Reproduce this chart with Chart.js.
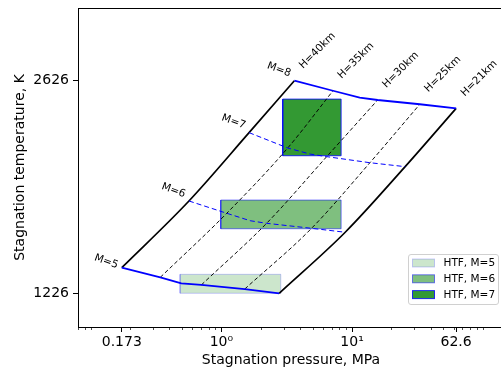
<!DOCTYPE html>
<html lang="en">
<head>
<meta charset="UTF-8">
<title>Stagnation conditions</title>
<style>
  html, body { margin: 0; padding: 0; background: #fff; overflow: hidden; }
  #wrap { width: 504px; height: 372px; }
</style>
</head>
<body>
<div id="wrap"><canvas id="envelope" width="504" height="372"></canvas></div>
<script src="https://cdn.jsdelivr.net/npm/chart.js"></script>
<script>
// Points along each Mach line, at these altitudes (km)
const altitudes = [40, 35, 32, 30, 25, 21];
const machNumbers = [5, 6, 7, 8];

// stagnation pressure, MPa
const pressureM5 = [0.173, 0.341, 0.494, 0.703, 1.51, 2.77];
const pressureM6 = [0.565, 1.10, 1.66, 2.22, 4.90, 8.87];
const pressureM7 = [1.63, 3.22, 4.78, 6.40, 13.7, 25.5];
const pressureM8 = [3.62, 7.15, 11.45, 15.7, 33.0, 62.6];

// stagnation temperature, K
const temperatureM5 = [1395, 1331, 1292, 1281, 1254, 1226];
const temperatureM6 = [1834, 1753, 1704, 1687, 1654, 1628];
const temperatureM7 = [2284, 2183, 2143, 2126, 2086, 2060];
const temperatureM8 = [2626, 2560, 2514, 2499, 2471, 2444];

// altitudes drawn as H lines (32 km is only a break point of the Mach lines)
const altitudeLines = [40, 35, 30, 25, 21];

// HTF windows: [p min, p max] MPa, [T min, T max] K
const htfLabels = ['HTF, M=5', 'HTF, M=6', 'HTF, M=7'];
const htfPressure = [[0.483, 2.85], [0.99, 8.25], [2.95, 8.25]];
const htfTemperature = [[1226, 1351], [1651, 1840], [2132, 2505]];
const htfAlpha = [0.2, 0.5, 0.8];

const xTickValues = [0.173, 1, 10, 62.6];
const xTickLabels = ['0.173', '10\u2070', '10\u00b9', '62.6'];
const yTickValues = [1226, 2626];

const pressureByMach = [pressureM5, pressureM6, pressureM7, pressureM8];
const temperatureByMach = [temperatureM5, temperatureM6, temperatureM7, temperatureM8];

Chart.defaults.font.family = 'DejaVu Sans';
Chart.defaults.color = '#000';

const datasets = [];

// test windows go underneath everything else
htfLabels.forEach((label, i) => {
    const [p0, p1] = htfPressure[i];
    const [t0, t1] = htfTemperature[i];
    datasets.push({
        label: label,
        htf: true,
        data: [{x: p0, y: t0}, {x: p1, y: t0}, {x: p1, y: t1}, {x: p0, y: t1}, {x: p0, y: t0}],
        showLine: true,
        fill: 'shape',
        backgroundColor: 'rgba(0,128,0,' + htfAlpha[i] + ')',
        borderColor: 'rgba(0,0,255,' + htfAlpha[i] + ')',
        borderWidth: 1,
        pointRadius: 0,
        order: 10
    });
});

// constant Mach lines: outer ones solid, inner ones dashed
machNumbers.forEach((m, i) => {
    const outer = i === 0 || i === machNumbers.length - 1;
    datasets.push({
        label: 'M=' + m,
        data: pressureByMach[i].map((p, j) => ({x: p, y: temperatureByMach[i][j]})),
        showLine: true,
        borderColor: 'blue',
        borderWidth: outer ? 1.8 : 1,
        borderDash: outer ? [] : [5, 3],
        pointRadius: 0,
        order: 2
    });
});

// constant altitude lines
altitudeLines.forEach(h => {
    const j = altitudes.indexOf(h);
    const outer = h === 40 || h === 21;
    datasets.push({
        label: 'H=' + h + 'km',
        data: machNumbers.map((m, i) => ({x: pressureByMach[i][j], y: temperatureByMach[i][j]})),
        showLine: true,
        borderColor: 'black',
        borderWidth: outer ? 1.7 : 0.95,
        borderDash: outer ? [] : [4, 2.5],
        cubicInterpolationMode: 'monotone',
        pointRadius: 0,
        order: 3
    });
});

function drawRotated(ctx, text, cx, cy, deg) {
    ctx.save();
    ctx.translate(cx, cy);
    ctx.rotate(deg * Math.PI / 180);
    ctx.textAlign = 'center';
    ctx.textBaseline = 'middle';
    ctx.fillText(text, 0, 0);
    ctx.restore();
}

const decorations = {
    id: 'decorations',
    afterDatasetsDraw(chart) {
        const {ctx, chartArea, scales: {x, y}} = chart;
        ctx.save();

        // top spine
        ctx.strokeStyle = '#000';
        ctx.lineWidth = 1;
        ctx.beginPath();
        ctx.moveTo(chartArea.left, chartArea.top + 0.5);
        ctx.lineTo(chartArea.right, chartArea.top + 0.5);
        ctx.stroke();

        // minor ticks of the log axis
        ctx.lineWidth = 0.7;
        ctx.beginPath();
        for (let d = -2; d <= 2; d++) {
            for (let k = 1; k <= 9; k++) {
                const v = k * Math.pow(10, d);
                if (k === 1 && (d === 0 || d === 1)) continue;
                if (v < x.min || v > x.max) continue;
                const px = Math.round(x.getPixelForValue(v)) + 0.5;
                ctx.moveTo(px, chartArea.bottom);
                ctx.lineTo(px, chartArea.bottom + 3);
            }
        }
        ctx.stroke();

        // Mach labels next to the H=40km end of each line
        ctx.fillStyle = '#000';
        ctx.font = '10.5px "DejaVu Sans"';
        const lift = [6, 10.5, 11, 11];
        machNumbers.forEach((m, i) => {
            const px = x.getPixelForValue(pressureByMach[i][0]);
            const py = y.getPixelForValue(temperatureByMach[i][0]);
            drawRotated(ctx, 'M=' + m, px - 15.5, py - lift[i], 20);
        });

        // altitude labels above the M=8 line
        const top = machNumbers.length - 1;
        altitudeLines.forEach(h => {
            const j = altitudes.indexOf(h);
            const px = x.getPixelForValue(pressureByMach[top][j]);
            const py = y.getPixelForValue(temperatureByMach[top][j]);
            drawRotated(ctx, 'H=' + h + 'km', px + 23, py - 30, -45);
        });

        // legend for the HTF windows
        const lx = chartArea.right - 95.5;
        const ly = chartArea.bottom - 72.5;
        ctx.beginPath();
        ctx.roundRect(lx, ly, 90, 50, 2.5);
        ctx.fillStyle = 'rgba(255,255,255,0.8)';
        ctx.fill();
        ctx.strokeStyle = '#d0d0d0';
        ctx.lineWidth = 1;
        ctx.stroke();
        ctx.font = '10.5px "DejaVu Sans"';
        ctx.textAlign = 'left';
        ctx.textBaseline = 'middle';
        chart.data.datasets.filter(ds => ds.htf).forEach((ds, i) => {
            const cy = ly + 8.5 + i * 15.8;
            ctx.fillStyle = ds.backgroundColor;
            ctx.fillRect(lx + 4, cy - 4, 22, 8);
            ctx.strokeStyle = ds.borderColor;
            ctx.strokeRect(lx + 4, cy - 4, 22, 8);
            ctx.fillStyle = '#000';
            ctx.fillText(ds.label, lx + 35, cy + 0.5);
        });

        ctx.restore();
    }
};

new Chart(document.getElementById('envelope'), {
    type: 'scatter',
    data: {datasets: datasets},
    options: {
        responsive: false,
        animation: false,
        layout: {padding: {top: 8, left: 0, right: 0, bottom: 0}},
        plugins: {
            legend: {display: false},
            tooltip: {enabled: false}
        },
        scales: {
            x: {
                type: 'logarithmic',
                min: 0.08,
                max: 145.5,
                afterBuildTicks: scale => { scale.ticks = xTickValues.map(v => ({value: v})); },
                afterFit: scale => {
                    scale.height = 45;
                    scale.paddingLeft = 0;
                    scale.paddingRight = 0;
                },
                ticks: {
                    autoSkip: false,
                    maxRotation: 0,
                    padding: 2,
                    font: {size: 14},
                    callback: v => xTickLabels[xTickValues.indexOf(v)]
                },
                grid: {drawOnChartArea: false, drawTicks: true, tickLength: 5, color: '#000', tickWidth: 1},
                border: {display: true, color: '#000', width: 1},
                title: {display: true, text: 'Stagnation pressure, MPa', font: {size: 14}, padding: {top: 0, bottom: 3.6}}
            },
            y: {
                min: 1004,
                max: 3105,
                afterBuildTicks: scale => { scale.ticks = yTickValues.map(v => ({value: v})); },
                afterFit: scale => {
                    scale.width = 78;
                    scale.paddingTop = 0;
                    scale.paddingBottom = 0;
                },
                ticks: {padding: 4, font: {size: 14}, callback: v => String(v)},
                grid: {drawOnChartArea: false, drawTicks: true, tickLength: 5, color: '#000', tickWidth: 1},
                border: {display: true, color: '#000', width: 1},
                title: {display: true, text: 'Stagnation temperature, K', font: {size: 14}, padding: {top: 11.6, bottom: 0}}
            }
        }
    },
    plugins: [decorations]
});
</script>
</body>
</html>
